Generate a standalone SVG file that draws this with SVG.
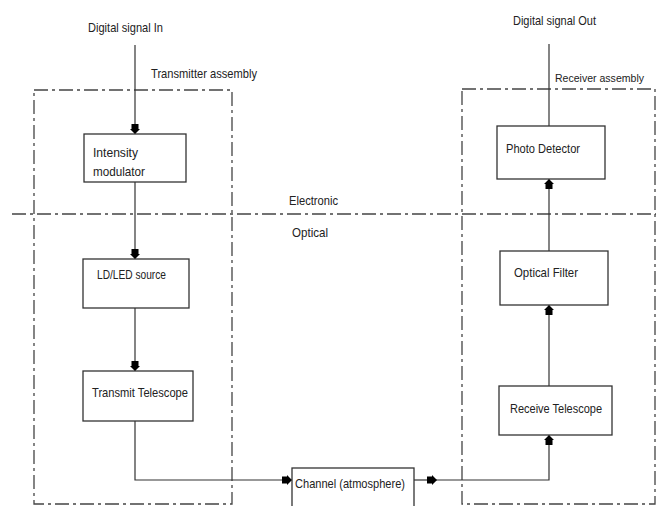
<svg xmlns="http://www.w3.org/2000/svg" width="656" height="506" viewBox="0 0 656 506">
<style>
text{font-family:"Liberation Sans",Arial,sans-serif;font-size:13px;fill:#222}
.box{fill:#fff;stroke:#333;stroke-width:1.3}
.dash{fill:none;stroke:#444;stroke-width:1.3;stroke-dasharray:14 4 3 4}
.conn{fill:none;stroke:#333;stroke-width:1.2}
</style>
<defs>
<marker id="ah" viewBox="0 0 10 10" refX="10" refY="5" markerWidth="10" markerHeight="10" markerUnits="userSpaceOnUse" orient="auto">
<path d="M0,1.5 L5,1.5 L5,0 L10,5 L5,10 L5,8.5 L0,8.5 Z" fill="#000"/>
</marker>
</defs>
<rect width="656" height="506" fill="#fff"/>
<g id="regions">
<rect class="dash" x="34" y="90" width="198" height="414"/>
<rect class="dash" x="462" y="89" width="193" height="415"/>
<line class="dash" x1="12" y1="214" x2="656" y2="214"/>
</g>
<g id="labels">
<text x="88" y="32" textLength="75" lengthAdjust="spacingAndGlyphs">Digital signal In</text>
<text x="151" y="78" textLength="106" lengthAdjust="spacingAndGlyphs">Transmitter assembly</text>
<text x="513" y="25" textLength="83" lengthAdjust="spacingAndGlyphs">Digital signal Out</text>
<text x="555" y="82" style="font-size:11.5px" textLength="89" lengthAdjust="spacingAndGlyphs">Receiver assembly</text>
<text x="289" y="205" textLength="49" lengthAdjust="spacingAndGlyphs">Electronic</text>
<text x="292" y="237" textLength="36" lengthAdjust="spacingAndGlyphs">Optical</text>
</g>
<g id="connectors">
<line class="conn" x1="135" y1="45" x2="135" y2="134" marker-end="url(#ah)"/>
<line class="conn" x1="135" y1="182" x2="135" y2="259" marker-end="url(#ah)"/>
<line class="conn" x1="135" y1="308" x2="135" y2="371" marker-end="url(#ah)"/>
<path class="conn" d="M135 421 V480 H292" marker-end="url(#ah)"/>
<line class="conn" x1="414" y1="480" x2="437" y2="480" marker-end="url(#ah)"/>
<path class="conn" d="M437 480 H549 V435" marker-end="url(#ah)"/>
<line class="conn" x1="549" y1="386" x2="549" y2="305" marker-end="url(#ah)"/>
<line class="conn" x1="549" y1="251" x2="549" y2="179" marker-end="url(#ah)"/>
<line class="conn" x1="549" y1="126" x2="549" y2="44"/>
</g>
<g id="intensity-modulator">
<rect class="box" x="84" y="134" width="102" height="48"/>
<text x="93" y="157" textLength="45" lengthAdjust="spacingAndGlyphs">Intensity</text>
<text x="93" y="176" textLength="52" lengthAdjust="spacingAndGlyphs">modulator</text>
</g>
<g id="ld-led-source">
<rect class="box" x="83" y="259" width="106" height="49"/>
<text x="97" y="279" textLength="69" lengthAdjust="spacingAndGlyphs">LD/LED source</text>
</g>
<g id="transmit-telescope">
<rect class="box" x="83" y="371" width="110" height="50"/>
<text x="92" y="397" textLength="96" lengthAdjust="spacingAndGlyphs">Transmit Telescope</text>
</g>
<g id="channel">
<rect class="box" x="292" y="468" width="122" height="44"/>
<text x="295" y="488" textLength="110" lengthAdjust="spacingAndGlyphs">Channel (atmosphere)</text>
</g>
<g id="receive-telescope">
<rect class="box" x="499" y="386" width="113" height="49"/>
<text x="510" y="413" textLength="92" lengthAdjust="spacingAndGlyphs">Receive Telescope</text>
</g>
<g id="optical-filter">
<rect class="box" x="500" y="251" width="108" height="54"/>
<text x="514" y="277" textLength="64" lengthAdjust="spacingAndGlyphs">Optical Filter</text>
</g>
<g id="photo-detector">
<rect class="box" x="497" y="126" width="108" height="53"/>
<text x="506" y="153" textLength="74" lengthAdjust="spacingAndGlyphs">Photo Detector</text>
</g>
</svg>
